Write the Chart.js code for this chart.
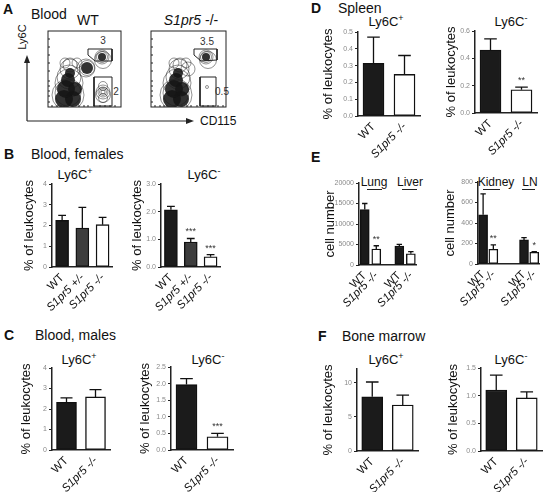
<!DOCTYPE html>
<html>
<head>
<meta charset="utf-8">
<script src="https://cdn.jsdelivr.net/npm/chart.js@4.4.1/dist/chart.umd.min.js"></script>
<style>
body { margin: 0; background: #fff; width: 548px; height: 492px; overflow: hidden; position: relative; font-family: "Liberation Sans", Arial, sans-serif; color: #111; }
canvas { position: absolute; }
.t { position: absolute; white-space: nowrap; transform: translate(-50%, -50%); line-height: 1; }
.l { position: absolute; white-space: nowrap; transform: translateY(-50%); line-height: 1; }
.p { font-weight: bold; font-size: 14px; }
.h { font-size: 14px; }
.ttl { font-size: 13px; }
.ttl sup { font-size: 9px; }
.g { font-size: 10px; color: #333; }
.u { position: absolute; height: 0; border-top: 1.5px solid #222; }
</style>
</head>
<body>
<svg style="position:absolute;left:0;top:0" width="548" height="492">
  <line x1="27" y1="121" x2="27" y2="61" stroke="#222" stroke-width="1.2"/>
  <polygon points="27,55 24,63 30,63" fill="#222"/>
  <line x1="27" y1="121" x2="187" y2="121" stroke="#222" stroke-width="1.2"/>
  <polygon points="194,121 186,118 186,124" fill="#222"/>
</svg>

<div class="l p" style="left:3px;top:9px">A</div>
<div class="l h" style="left:31px;top:14px">Blood</div>
<div class="t h" style="left:88px;top:20px">WT</div>
<div class="t h" style="left:191px;top:20px"><i>S1pr5</i> -/-</div>
<div class="t" style="left:22px;top:37px;font-size:11px;transform:translate(-50%,-50%) rotate(-90deg)">Ly6C</div>
<div class="l" style="left:200px;top:121px;font-size:12px">CD115</div>
<div class="t g" style="left:103px;top:41px">3</div>
<div class="t g" style="left:116px;top:92px">2</div>
<div class="t g" style="left:207px;top:42px">3.5</div>
<div class="t g" style="left:222px;top:92px">0.5</div>

<div class="l p" style="left:4px;top:154px">B</div>
<div class="l h" style="left:31px;top:154px">Blood, females</div>
<div class="t ttl" style="left:75px;top:174px">Ly6C<sup>+</sup></div>
<div class="t ttl" style="left:204px;top:174px">Ly6C<sup>-</sup></div>

<div class="l p" style="left:4px;top:335px">C</div>
<div class="l h" style="left:35px;top:335px">Blood, males</div>
<div class="t ttl" style="left:79px;top:359px">Ly6C<sup>+</sup></div>
<div class="t ttl" style="left:208px;top:359px">Ly6C<sup>-</sup></div>

<div class="l p" style="left:311px;top:8px">D</div>
<div class="l h" style="left:338px;top:8px">Spleen</div>
<div class="t ttl" style="left:386px;top:21px">Ly6C<sup>+</sup></div>
<div class="t ttl" style="left:511px;top:21px">Ly6C<sup>-</sup></div>

<div class="l p" style="left:311px;top:157px">E</div>
<div class="t" style="left:374px;top:182px;font-size:12px">Lung</div>
<div class="t" style="left:410px;top:182px;font-size:12px">Liver</div>
<div class="t" style="left:496px;top:182px;font-size:12px">Kidney</div>
<div class="t" style="left:530px;top:182px;font-size:12px">LN</div>
<div class="u" style="left:367px;top:189px;width:15px"></div>
<div class="u" style="left:402px;top:189px;width:15px"></div>
<div class="u" style="left:483px;top:189px;width:17px"></div>
<div class="u" style="left:522px;top:189px;width:13px"></div>

<div class="l p" style="left:318px;top:336px">F</div>
<div class="l h" style="left:342px;top:336px">Bone marrow</div>
<div class="t ttl" style="left:386px;top:359px">Ly6C<sup>+</sup></div>
<div class="t ttl" style="left:511px;top:359px">Ly6C<sup>-</sup></div>

<script>
// ---- data ----
var hetLabels = ['WT', 'S1pr5 +/-', 'S1pr5 -/-'];
var koLabels = ['WT', 'S1pr5 -/-'];
var lungLiverLabels = ['WT', 'S1pr5 -/-', '', 'WT', 'S1pr5 -/-'];
var kidneyLnLabels = ['WT', 'S1pr5 -/-', '', '', 'WT', 'S1pr5 -/-'];

var femPlus = [2.25, 1.88, 2.04];
var femPlusSem = [0.24, 0.99, 0.35];
var femMinus = [2.07, 0.9, 0.37];
var femMinusSem = [0.12, 0.13, 0.08];
var femMinusSig = ['', '***', '***'];

var malePlus = [2.33, 2.59];
var malePlusSem = [0.21, 0.36];
var maleMinus = [1.97, 0.4];
var maleMinusSem = [0.18, 0.1];
var maleMinusSig = ['', '***'];

var spleenPlus = [0.314, 0.248];
var spleenPlusSem = [0.156, 0.112];
var spleenMinus = [0.461, 0.17];
var spleenMinusSem = [0.081, 0.02];
var spleenMinusSig = ['', '**'];

var lungLiver = [13540, 3890, null, 4620, 2750];
var lungLiverSem = [1460, 810, null, 410, 490];
var lungLiverSig = ['', '**', '', '', ''];
var kidneyLn = [480, 144, null, null, 235, 115];
var kidneyLnSem = [205, 42, null, null, 23, 5];
var kidneyLnSig = ['', '**', '', '', '', '*'];

var marrowPlus = [7.93, 6.73];
var marrowPlusSem = [2.17, 1.44];
var marrowMinus = [1.1, 0.96];
var marrowMinusSem = [0.27, 0.11];

var ticks0to4 = ['0', '1', '2', '3', '4'];
var ticks0to3 = ['0.0', '1.0', '2.0', '3.0'];
var ticks0to25 = ['0.0', '0.5', '1.0', '1.5', '2.0', '2.5'];
var ticks0to05 = ['0.0', '0.1', '0.2', '0.3', '0.4', '0.5'];
var ticks0to06 = ['0.0', '0.2', '0.4', '0.6'];
var ticksLung = ['0', '5000', '10000', '15000', '20000'];
var ticksKidney = ['0', '200', '400', '600', '800'];
var ticksMarrowPlus = ['0', '5', '10'];
var ticksMarrowMinus = ['0.0', '0.5', '1.0', '1.5'];

// flow cytometry contours: dense cores, contour rings, gates (box units)
var wtCores = [{x:16,y:8,r:9},{x:25,y:8,r:8},{x:18,y:18,r:9},{x:27,y:18,r:7},{x:20,y:27,r:7},{x:22,y:34,r:5},
  {x:39,y:39,r:6},{x:54,y:50,r:4}];
var wtRings = [{x:20,y:12,r:16},{x:20,y:14,r:13},{x:21,y:24,r:14},{x:21,y:30,r:12},{x:22,y:38,r:10},{x:22,y:42,r:7},
  {x:17,y:44,r:5},{x:29,y:44,r:5},{x:38,y:39,r:9},{x:39,y:39,r:7.5},
  {x:54,y:50,r:5.5},{x:54,y:50,r:7},{x:55,y:47,r:8.5},
  {x:55,y:15,r:2},{x:55,y:15,r:3.5},{x:55,y:15,r:5},{x:55,y:9,r:4.5},{x:55,y:21,r:4.5},{x:55,y:15,r:7},{x:55,y:12,r:7.5}];
var wtGateHi = [{x:40,y:58},{x:64,y:58},{x:64,y:46},{x:47,y:46},{x:40,y:52},{x:40,y:58}];
var wtGateLo = [{x:46,y:1},{x:64,y:1},{x:64,y:30},{x:46,y:30},{x:46,y:1}];

var koCores = [{x:21,y:8,r:9},{x:30,y:8,r:8},{x:23,y:18,r:9},{x:31,y:18,r:7},{x:25,y:27,r:7},{x:27,y:34,r:5},{x:55,y:50,r:4}];
var koRings = [{x:25,y:12,r:16},{x:25,y:14,r:13},{x:26,y:24,r:14},{x:27,y:30,r:12},{x:28,y:38,r:10},{x:29,y:42,r:7},
  {x:23,y:44,r:5},{x:35,y:44,r:5},{x:37,y:38,r:7},
  {x:55,y:50,r:5.5},{x:55,y:50,r:7},{x:57,y:47,r:8.5},{x:56,y:20,r:1.5}];
var koGateHi = [{x:43,y:58},{x:66,y:58},{x:66,y:47},{x:50,y:46},{x:43,y:52},{x:43,y:58}];
var koGateLo = [{x:49,y:1},{x:65,y:1},{x:65,y:30},{x:49,y:30},{x:49,y:1}];
var flowTickX = [4, 9, 13, 16, 24, 31, 36, 40, 46, 52, 57, 62, 67, 72];
var flowTickY = [5, 11, 16, 21, 26, 36, 44, 52, 60, 68];

var fill3 = ['#1b1b1b', '#3d3d3d', '#ffffff'];
var fill2 = ['#1b1b1b', '#ffffff'];
var fillLung = ['#1b1b1b', '#ffffff', '#ffffff', '#1b1b1b', '#ffffff'];
var fillKidney = ['#1b1b1b', '#ffffff', '#ffffff', '#ffffff', '#1b1b1b', '#ffffff'];

Chart.defaults.font.family = '"Liberation Sans", Arial, sans-serif';
Chart.defaults.color = '#111';

function mk(left, top, w, h) {
  var c = document.createElement('canvas');
  c.width = w; c.height = h;
  c.style.left = left + 'px'; c.style.top = top + 'px';
  document.body.appendChild(c);
  return c;
}

var errPlugin = {
  id: 'errbars',
  afterDatasetsDraw: function (chart) {
    var ds = chart.data.datasets[0];
    var meta = chart.getDatasetMeta(0);
    var y = chart.scales.y;
    var ctx = chart.ctx;
    ctx.save();
    ctx.strokeStyle = '#111';
    ctx.lineWidth = 1.3;
    meta.data.forEach(function (bar, i) {
      var v = ds.data[i];
      if (v == null) return;
      var top = y.getPixelForValue(v + ds.sem[i]);
      var cap = bar.width * 0.3;
      ctx.beginPath();
      ctx.moveTo(bar.x, bar.y);
      ctx.lineTo(bar.x, top);
      ctx.moveTo(bar.x - cap, top);
      ctx.lineTo(bar.x + cap, top);
      ctx.stroke();
      if (ds.sig[i]) {
        ctx.fillStyle = '#333';
        ctx.font = '9px "Liberation Sans", Arial';
        ctx.textAlign = 'center';
        ctx.textBaseline = 'bottom';
        ctx.fillText(ds.sig[i], bar.x, top - 2);
      }
    });
    ctx.restore();
  }
};

function barChart(o) {
  var cv = mk(o.cx, o.ct, o.cw, o.ch);
  var tickVals = o.ticks.map(Number);
  new Chart(cv, {
    type: 'bar',
    data: {
      labels: o.labels,
      datasets: [{
        data: o.vals, sem: o.sem, sig: o.sig || [],
        backgroundColor: o.fills, borderColor: '#111', borderWidth: 1.4,
        borderSkipped: false, barThickness: o.bw
      }]
    },
    options: {
      responsive: false, animation: false, events: [],
      layout: { autoPadding: false, padding: { top: o.top - o.ct, right: o.cx + o.cw - o.right, left: 0, bottom: 0 } },
      plugins: { legend: { display: false }, tooltip: { enabled: false } },
      scales: {
        x: {
          grid: { display: true, drawOnChartArea: false, drawTicks: false },
          border: { color: '#222', width: 1.5 },
          ticks: {
            autoSkip: false, minRotation: 45, maxRotation: 45, padding: 4, color: '#111',
            font: function (c) {
              var lab = o.labels[c.index] || '';
              return { size: 11.5, style: lab.indexOf('S1pr5') === 0 ? 'italic' : 'normal' };
            }
          },
          afterFit: function (s) { s.height = o.ct + o.ch - o.bottom; }
        },
        y: {
          min: 0, max: o.max || tickVals[tickVals.length - 1],
          afterBuildTicks: function (s) { s.ticks = tickVals.map(function (v) { return { value: v }; }); },
          ticks: { color: '#8a8a8a', font: { size: 7 }, padding: 2, autoSkip: false,
            callback: function (v, i) { return o.ticks[i]; } },
          grid: { drawOnChartArea: false, tickLength: 3, color: '#222' },
          border: { color: '#222', width: 1.5 },
          title: { display: true, text: o.yTitle, padding: 0, color: '#111', font: { size: 13 } },
          afterFit: function (s) { s.width = o.axis - o.cx; }
        }
      }
    },
    plugins: [errPlugin]
  });
}

var framePlugin = {
  id: 'frame',
  afterDraw: function (chart) {
    var a = chart.chartArea, ctx = chart.ctx;
    var sx = chart.scales.x, sy = chart.scales.y;
    ctx.save();
    ctx.strokeStyle = '#222';
    ctx.lineWidth = 1;
    ctx.strokeRect(a.left, a.top, a.right - a.left, a.bottom - a.top);
    ctx.beginPath();
    flowTickX.forEach(function (v) {
      var px = sx.getPixelForValue(v);
      if (px < a.right - 1) { ctx.moveTo(px, a.bottom); ctx.lineTo(px, a.bottom - 2); }
    });
    flowTickY.forEach(function (v) {
      var py = sy.getPixelForValue(v);
      if (py > a.top + 1) { ctx.moveTo(a.left, py); ctx.lineTo(a.left + 2, py); }
    });
    ctx.stroke();
    ctx.restore();
  }
};

function flowChart(left, top, w, h, cores, rings, gates) {
  var cv = mk(left - 2, top - 2, w + 4, h + 4);
  var sets = [
    { type: 'bubble', data: cores, backgroundColor: 'rgba(22,22,22,0.88)', borderWidth: 0, order: 3 },
    { type: 'bubble', data: rings, backgroundColor: 'rgba(0,0,0,0)', borderColor: 'rgba(25,25,25,0.8)', borderWidth: 0.6, order: 2 }
  ];
  gates.forEach(function (g) {
    sets.push({ type: 'line', data: g, borderColor: '#222', borderWidth: 1, pointRadius: 0, fill: false, tension: 0, order: 1 });
  });
  new Chart(cv, {
    type: 'bubble',
    data: { datasets: sets },
    options: {
      responsive: false, animation: false, events: [],
      layout: { autoPadding: false, padding: 2 },
      plugins: { legend: { display: false }, tooltip: { enabled: false } },
      scales: {
        x: { type: 'linear', display: false, min: 0, max: w },
        y: { type: 'linear', display: false, min: 0, max: h }
      }
    },
    plugins: [framePlugin]
  });
}

flowChart(48, 31, 73, 76, wtCores, wtRings, [wtGateHi, wtGateLo]);
flowChart(151, 31, 75, 76, koCores, koRings, [koGateHi, koGateLo]);

var leuk = '% of leukocytes';
barChart({ cx: 22, ct: 176, cw: 95, ch: 141, axis: 52, top: 184, bottom: 267, right: 113,
  labels: hetLabels, vals: femPlus, sem: femPlusSem, fills: fill3, bw: 13, ticks: ticks0to4, yTitle: leuk });
barChart({ cx: 130, ct: 176, cw: 95, ch: 141, axis: 161, top: 184, bottom: 267, right: 221,
  labels: hetLabels, vals: femMinus, sem: femMinusSem, sig: femMinusSig, fills: fill3, bw: 13, ticks: ticks0to3, yTitle: leuk });
barChart({ cx: 19, ct: 360, cw: 95, ch: 140, axis: 52, top: 368, bottom: 450, right: 110,
  labels: koLabels, vals: malePlus, sem: malePlusSem, fills: fill2, bw: 20, ticks: ticks0to4, yTitle: leuk });
barChart({ cx: 138, ct: 359, cw: 99, ch: 141, axis: 171, top: 367, bottom: 450, right: 233,
  labels: koLabels, vals: maleMinus, sem: maleMinusSem, sig: maleMinusSig, fills: fill2, bw: 21, ticks: ticks0to25, yTitle: leuk });
barChart({ cx: 321, ct: 24, cw: 103, ch: 142, axis: 358, top: 32, bottom: 116, right: 420,
  labels: koLabels, vals: spleenPlus, sem: spleenPlusSem, fills: fill2, bw: 21, ticks: ticks0to05, yTitle: leuk });
barChart({ cx: 444, ct: 23, cw: 97, ch: 142, axis: 475, top: 31, bottom: 113, right: 537,
  labels: koLabels, vals: spleenMinus, sem: spleenMinusSem, sig: spleenMinusSig, fills: fill2, bw: 21, ticks: ticks0to06, yTitle: leuk });
barChart({ cx: 323, ct: 175, cw: 102, ch: 140, axis: 359, top: 183, bottom: 265, right: 421,
  labels: lungLiverLabels, vals: lungLiver, sem: lungLiverSem, sig: lungLiverSig, fills: fillLung, bw: 9, ticks: ticksLung, yTitle: 'cell number' });
barChart({ cx: 443, ct: 174, cw: 105, ch: 140, axis: 478, top: 182, bottom: 264, right: 548,
  labels: kidneyLnLabels, vals: kidneyLn, sem: kidneyLnSem, sig: kidneyLnSig, fills: fillKidney, bw: 9, ticks: ticksKidney, yTitle: 'cell number' });
barChart({ cx: 321, ct: 361, cw: 101, ch: 140, axis: 357, top: 369, bottom: 451, right: 418, max: 12,
  labels: koLabels, vals: marrowPlus, sem: marrowPlusSem, fills: fill2, bw: 21, ticks: ticksMarrowPlus, yTitle: leuk });
barChart({ cx: 446, ct: 360, cw: 100, ch: 140, axis: 481, top: 368, bottom: 451, right: 542,
  labels: koLabels, vals: marrowMinus, sem: marrowMinusSem, fills: fill2, bw: 21, ticks: ticksMarrowMinus, yTitle: leuk });
</script>
</body>
</html>
